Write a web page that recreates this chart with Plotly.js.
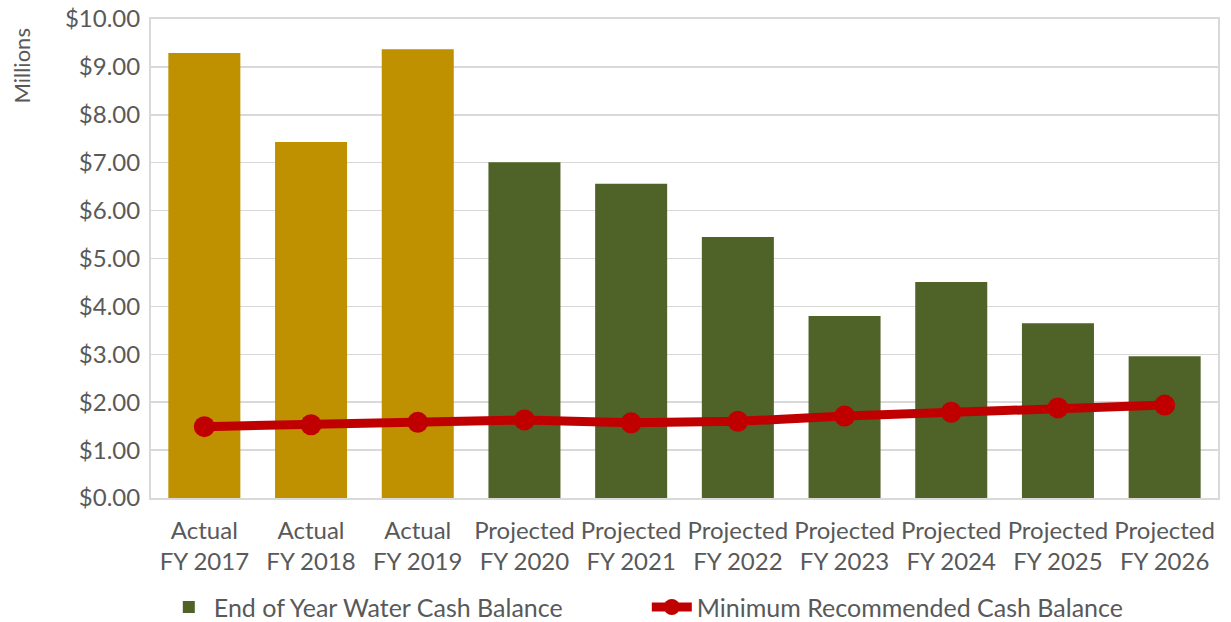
<!DOCTYPE html>
<html>
<head>
<meta charset="utf-8">
<script src="https://cdn.plot.ly/plotly-3.0.1.min.js"></script>
<style>html,body{margin:0;padding:0;background:#fff;overflow:hidden;}#chart{width:1231px;height:622px;}</style>
</head>
<body>
<div id="chart"></div>
<script>
const categories = ["Actual<br>FY 2017","Actual<br>FY 2018","Actual<br>FY 2019","Projected<br>FY 2020","Projected<br>FY 2021","Projected<br>FY 2022","Projected<br>FY 2023","Projected<br>FY 2024","Projected<br>FY 2025","Projected<br>FY 2026"];
const actualCategories = categories.slice(0,3);
const projectedCategories = categories.slice(3);
const actualCash = [9.29, 7.43, 9.37];
const projectedCash = [7.01, 6.56, 5.45, 3.80, 4.51, 3.65, 2.96];
const minimumCash = [1.49, 1.53, 1.58, 1.63, 1.57, 1.60, 1.71, 1.79, 1.88, 1.94];
const yTickVals = [0,1,2,3,4,5,6,7,8,9,10];
const yTickText = yTickVals.map(v => "$" + v.toFixed(2));

const font = {family: "Lato, 'Open Sans', sans-serif", color: "#595959"};

const traces = [
  {type:"bar", x: actualCategories, y: actualCash, marker:{color:"#BF9000"}, showlegend:false, name:"Actual", hoverinfo:"x+y"},
  {type:"bar", x: projectedCategories, y: projectedCash, marker:{color:"#4F6228"}, name:"End of Year Water Cash Balance"},
  {type:"scatter", mode:"lines+markers", x: categories, y: minimumCash, line:{color:"#C00000", width:9}, marker:{color:"#C00000", size:21}, name:"Minimum Recommended Cash Balance"}
];

const layout = {
  width:1231, height:622,
  margin:{l:151, r:13, t:19, b:124, autoexpand:false},
  paper_bgcolor:"#fff", plot_bgcolor:"#fff",
  barmode:"relative", bargap:0.325,
  font: Object.assign({size:24}, font),
  xaxis:{type:"category", categoryorder:"array", categoryarray:categories, range:[-0.5, categories.length-0.5], autorange:false, showline:true, mirror:true, linecolor:"#D9D9D9", linewidth:2, tickfont:Object.assign({size:24}, font), tickangle:0, ticks:"", ticklabelstandoff:10},
  yaxis:{range:[0,10], autorange:false, tickvals:yTickVals, ticktext:yTickText, showgrid:true, gridcolor:"#D9D9D9", gridwidth:1.5, showline:true, mirror:true, linecolor:"#D9D9D9", linewidth:2, zeroline:false, tickfont:Object.assign({size:24}, font), ticklabelstandoff:4},
  legend:{orientation:"h", x:0.012, xanchor:"left", y:-0.18, yanchor:"top", font:Object.assign({size:25}, font), traceorder:"normal", itemwidth:40, entrywidth:428},
  annotations:[{text:"Millions", xref:"paper", yref:"paper", x:-0.121, y:0.985, xanchor:"center", yanchor:"top", textangle:-90, showarrow:false, font:Object.assign({size:22}, font)}]
};

Plotly.newPlot("chart", traces, layout, {displayModeBar:false, staticPlot:true});
</script>
</body>
</html>
